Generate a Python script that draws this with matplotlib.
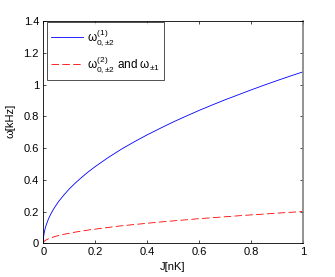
import matplotlib
matplotlib.use("Agg")
import matplotlib.pyplot as plt

J = [0, 0.001, 0.003, 0.005, 0.01, 0.02, 0.03, 0.04, 0.05, 0.06, 0.08, 0.1, 0.125, 0.15, 0.175,
     0.2, 0.25, 0.3, 0.35, 0.4, 0.45, 0.5, 0.55, 0.6, 0.65, 0.7, 0.75, 0.8, 0.85, 0.9, 0.95, 1.0]
omega1 = [0, 0.034, 0.059, 0.076, 0.108, 0.153, 0.187, 0.216, 0.241, 0.265, 0.305, 0.342, 0.382, 0.418, 0.452,
          0.483, 0.540, 0.592, 0.639, 0.683, 0.724, 0.764, 0.801, 0.837, 0.871, 0.904, 0.935, 0.966, 0.996, 1.025, 1.053, 1.08]
omega2 = [0, 0.006, 0.011, 0.014, 0.020, 0.028, 0.035, 0.040, 0.045, 0.049, 0.057, 0.063, 0.071, 0.077, 0.084,
          0.089, 0.100, 0.110, 0.118, 0.126, 0.134, 0.141, 0.148, 0.155, 0.161, 0.167, 0.173, 0.179, 0.184, 0.190, 0.195, 0.200]
xticks = [0, 0.2, 0.4, 0.6, 0.8, 1]
yticks = [0, 0.2, 0.4, 0.6, 0.8, 1, 1.2, 1.4]
xticklabels = ["0", "0.2", "0.4", "0.6", "0.8", "1"]
yticklabels = ["0", "0.2", "0.4", "0.6", "0.8", "1", "1.2", "1.4"]

plt.rcParams['font.family'] = ['Liberation Sans', 'DejaVu Sans']
plt.rcParams['mathtext.fontset'] = 'custom'
plt.rcParams['mathtext.rm'] = 'Liberation Sans'
plt.rcParams['mathtext.it'] = 'Liberation Sans'
plt.rcParams['mathtext.bf'] = 'Liberation Sans:bold'

fig = plt.figure(figsize=(3.35, 2.77), dpi=100)
ax = fig.add_axes([0.129, 0.1217, 0.775, 0.802])
ax.plot(J, omega1, color=(0, 0, 1), lw=0.6, label=r'$\omega^{(1)}_{0,{\pm}2}$')
ax.plot(J, omega2, color=(1, 0, 0), lw=0.6, ls=(0, (9, 4)), label=r'$\omega^{(2)}_{0,{\pm}2}$ and $\omega_{{\pm}1}$')
ax.set_xlim(0, 1)
ax.set_ylim(0, 1.4)
ax.set_xticks(xticks)
ax.set_xticklabels(xticklabels)
ax.set_yticks(yticks)
ax.set_yticklabels(yticklabels)
ax.tick_params(direction='in', top=True, right=True, labelsize=8, length=2.5, width=0.5, pad=3)
for s in ax.spines.values():
    s.set_linewidth(0.6)
ax.spines['right'].set_color('#808080')
ax.spines['right'].set_linewidth(1.2)
ax.set_xlabel('J[nK]', fontsize=8, labelpad=3)
ax.set_ylabel('ω[kHz]', fontsize=8, labelpad=2)
ax.yaxis.set_label_coords(-0.108, 0.55)
leg = ax.legend(loc='upper left', bbox_to_anchor=(0.013, 0.994), borderaxespad=0,
                fontsize=8.5, frameon=True, fancybox=False, edgecolor='black',
                handlelength=2.7, handletextpad=0.3, labelspacing=0.55, borderpad=0.4)
leg.get_frame().set_linewidth(0.6)
fig.savefig('out.png', dpi=100)
